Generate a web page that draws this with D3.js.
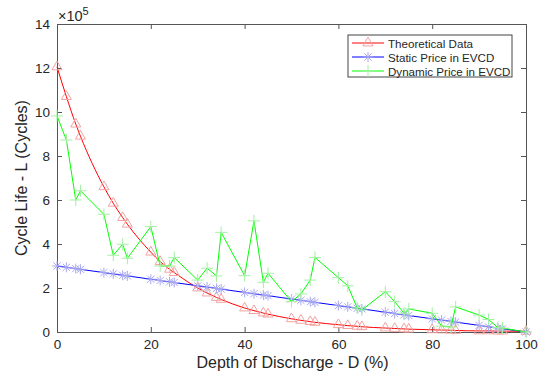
<!DOCTYPE html>
<meta charset="utf-8">
<style>
body { margin: 0; background: #fff; }
text { font-family: "Liberation Sans", Arial, sans-serif; fill: #262626; }
.axis text { font-size: 13.5px; }
.axis path, .axis line { stroke: #555; }
</style>
<svg width="542" height="371"></svg>
<script src="https://d3js.org/d3.v7.min.js"></script>
<script>

// depth of discharge (%) where the points sit
var depth = [0, 2, 4, 5, 10, 12, 14, 15, 20, 22, 24, 25, 30, 32, 34, 35, 40, 42, 44, 45,
             50, 52, 54, 55, 60, 62, 64, 65, 70, 72, 74, 75, 80, 82, 84, 85, 90, 92, 94, 95, 100];

// cycle life (cycles)
var theoretical = [1205000, 1070000, 945000, 890000, 660000, 585000, 520000, 490000, 363000, 320000,
                   285000, 270000, 200000, 177000, 157000, 148000, 109000, 97000, 86000, 81000,
                   60000, 53000, 47000, 44000, 33000, 29000, 26000, 24000, 18000, 16000,
                   14000, 13000, 10000, 9000, 8000, 7000, 5000, 5000, 4000, 4000, 3000];
var staticPrice = [300000, 294000, 288000, 285000, 270000, 264000, 258000, 255000, 240000, 234000,
                   228000, 225000, 210000, 204000, 198000, 195000, 180000, 174000, 168000, 165000,
                   150000, 144000, 138000, 135000, 120000, 114000, 108000, 105000, 90000, 84000,
                   78000, 75000, 60000, 54000, 48000, 45000, 30000, 24000, 18000, 15000, 0];
var dynamicPrice = [982000, 873000, 600000, 642000, 535000, 349000, 399000, 335000, 479000, 300000,
                    300000, 338000, 236000, 290000, 255000, 453000, 256000, 505000, 226000, 267000,
                    138000, 173000, 236000, 339000, 247000, 210000, 110000, 100000, 183000, 138000,
                    85000, 105000, 85000, 27000, 23000, 114000, 77000, 57000, 20000, 18000, 0];

var seriesNames = ["Theoretical Data", "Static Price in EVCD", "Dynamic Price in EVCD"];
var xTicks = [0, 20, 40, 60, 80, 100];
var yTicks = [0, 200000, 400000, 600000, 800000, 1000000, 1200000, 1400000];

var svg = d3.select("svg"),
    margin = {top: 24, right: 16, bottom: 39, left: 57},
    width = +svg.attr("width") - margin.left - margin.right,
    height = +svg.attr("height") - margin.top - margin.bottom,
    g = svg.append("g").attr("transform", "translate(" + margin.left + "," + margin.top + ")");

var x = d3.scaleLinear().domain([0, 100]).range([0, width]);
var y = d3.scaleLinear().domain([0, 1400000]).range([height, 0]);

// matlab-ish markers
var star = {draw: function(c, size) {
  var r = Math.sqrt(size) / 2, d = r * 0.72;
  c.moveTo(-r, 0); c.lineTo(r, 0);
  c.moveTo(0, -r); c.lineTo(0, r);
  c.moveTo(-d, -d); c.lineTo(d, d);
  c.moveTo(-d, d); c.lineTo(d, -d);
}};
var plus = {draw: function(c, size) {
  var r = Math.sqrt(size) / 2;
  c.moveTo(-r, 0); c.lineTo(r, 0);
  c.moveTo(0, -r); c.lineTo(0, r);
}};

var series = [
  {name: seriesNames[0], values: theoretical, line: "#ff0000", mark: "#f2a3a3", type: d3.symbolTriangle2, size: 72, curve: d3.curveMonotoneX},
  {name: seriesNames[1], values: staticPrice, line: "#0000ff", mark: "#a9a9f2", type: star, size: 100, curve: d3.curveLinear},
  {name: seriesNames[2], values: dynamicPrice, line: "#00ff00", mark: "#a3f0a3", type: plus, size: 144, curve: d3.curveLinear}
];

// axes, ticks pointing in on all four sides
g.append("g").attr("class", "axis")
  .attr("transform", "translate(0," + height + ")")
  .call(d3.axisBottom(x).tickValues(xTicks).tickSizeInner(-5).tickSizeOuter(0).tickPadding(7));
g.append("g").attr("class", "axis")
  .call(d3.axisTop(x).tickValues(xTicks).tickSizeInner(-5).tickSizeOuter(0).tickFormat(""));
g.append("g").attr("class", "axis")
  .call(d3.axisLeft(y).tickValues(yTicks).tickSizeInner(-5).tickSizeOuter(0).tickPadding(7)
    .tickFormat(function(d) { return d / 100000; }));
g.append("g").attr("class", "axis")
  .attr("transform", "translate(" + width + ",0)")
  .call(d3.axisRight(y).tickValues(yTicks).tickSizeInner(-5).tickSizeOuter(0).tickFormat(""));
g.selectAll(".axis .domain").attr("stroke", "#555");

// exponent label
var ex = svg.append("text").attr("x", 58).attr("y", 21).style("font-size", "14.5px");
ex.append("tspan").text("\u00d710");
ex.append("tspan").attr("dy", -6).style("font-size", "11px").text("5");

series.forEach(function(s) {
  var pts = depth.map(function(d, i) { return [d, s.values[i]]; });
  g.append("path")
    .datum(pts)
    .attr("fill", "none")
    .attr("stroke", s.line)
    .attr("stroke-width", 1)
    .attr("d", d3.line().curve(s.curve).x(function(d) { return x(d[0]); }).y(function(d) { return y(d[1]); }));
  g.selectAll(null)
    .data(pts)
    .enter().append("path")
    .attr("transform", function(d) { return "translate(" + x(d[0]) + "," + y(d[1]) + ")"; })
    .attr("d", d3.symbol().type(s.type).size(s.size))
    .attr("fill", "none")
    .attr("stroke", s.mark)
    .attr("stroke-width", 1);
});

// axis titles
svg.append("text")
  .attr("x", margin.left + width / 2 + 1).attr("y", 368)
  .attr("text-anchor", "middle").style("font-size", "16px")
  .text("Depth of Discharge - D (%)");
svg.append("text")
  .attr("transform", "translate(27," + (margin.top + height / 2) + ") rotate(-90)")
  .attr("text-anchor", "middle").style("font-size", "16px")
  .text("Cycle Life - L (Cycles)");

// legend
var legend = svg.append("g").attr("transform", "translate(348,35)");
legend.append("rect")
  .attr("width", 164).attr("height", 42)
  .attr("fill", "#fff").attr("stroke", "#444").attr("stroke-width", 1);
series.forEach(function(s, i) {
  var row = legend.append("g").attr("transform", "translate(0," + (8 + i * 14) + ")");
  row.append("line").attr("x1", 4).attr("x2", 36).attr("stroke", s.line).attr("stroke-width", 1);
  row.append("path")
    .attr("transform", "translate(20,0)")
    .attr("d", d3.symbol().type(s.type).size(s.size))
    .attr("fill", "none").attr("stroke", s.mark);
  row.append("text").attr("x", 40).attr("y", 4.5).style("font-size", "11.6px").text(s.name);
});

</script>
